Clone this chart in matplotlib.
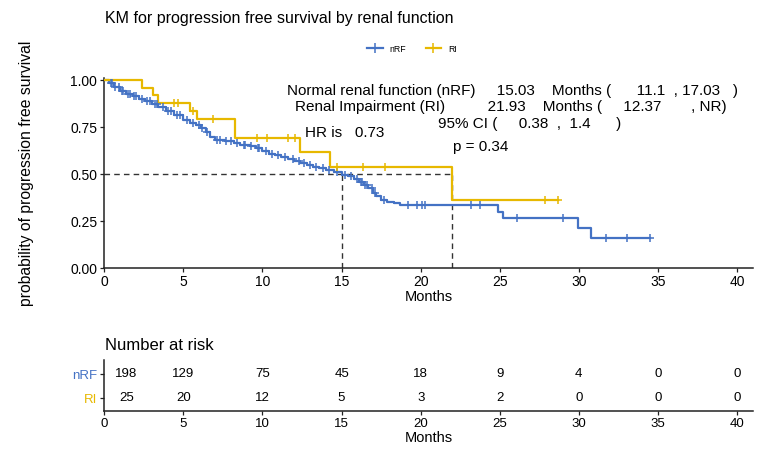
import numpy as np
import matplotlib
matplotlib.use("Agg")
import matplotlib.pyplot as plt
from matplotlib.lines import Line2D

plt.rcParams['font.family'] = ['Liberation Sans', 'DejaVu Sans']

# ---------------------------------------------------------------------------
# Data
# ---------------------------------------------------------------------------
groups = ["nRF", "RI"]
colors = ["#4472C4", "#E7B800"]

# nRF step curve (time, survival)
nrf_t = [0, 0.3, 0.6, 1.0, 1.4, 1.8, 2.2, 2.6, 3.0, 3.4, 3.9, 4.4, 5.0, 5.4,
         5.8, 6.1, 6.4, 6.7, 7.0, 7.6, 8.2, 8.6, 9.2, 9.6, 10.0, 10.4, 10.8,
         11.2, 11.6, 12.0, 12.4, 12.8, 13.2, 13.6, 14.0, 14.5, 15.03, 15.4,
         15.8, 16.1, 16.4, 16.7, 17.0, 17.2, 17.5, 17.9, 18.3, 18.7, 24.9,
         25.2, 29.96, 30.77, 34.5]
nrf_s = [1.0, 0.985, 0.965, 0.945, 0.93, 0.915, 0.90, 0.888, 0.876, 0.86,
         0.835, 0.815, 0.79, 0.775, 0.76, 0.745, 0.725, 0.70, 0.685, 0.676,
         0.665, 0.656, 0.648, 0.638, 0.625, 0.61, 0.60, 0.59, 0.583, 0.572,
         0.56, 0.549, 0.54, 0.532, 0.522, 0.512, 0.498, 0.49, 0.475, 0.46,
         0.445, 0.425, 0.40, 0.382, 0.365, 0.352, 0.345, 0.336, 0.30, 0.265,
         0.212, 0.158, 0.158]
nrf_cens = [0.4, 0.5, 0.7, 0.9, 1.1, 1.2, 1.5, 1.6, 1.9, 2.0, 2.4, 2.7, 2.9,
            3.2, 3.3, 3.7, 4.0, 4.2, 4.6, 4.8, 5.2, 5.6, 6.0, 6.2, 6.5, 7.1,
            7.3, 7.7, 8.0, 8.4, 8.8, 8.9, 9.3, 9.7, 9.8, 10.2, 10.6, 11.0,
            11.4, 11.9, 12.3, 12.6, 13.0, 13.4, 13.8, 14.2, 14.7, 15.2, 15.6,
            16.0, 16.2, 16.3, 16.5, 16.6, 16.9, 17.1, 17.7, 19.2, 19.75,
            20.06, 20.27, 23.2, 23.75, 26.07, 28.98, 31.7, 33.06, 34.5]

# RI step curve
ri_t = [0, 2.36, 3.1, 3.41, 5.42, 5.85, 8.26, 12.37, 14.27, 21.96, 28.7]
ri_s = [1.0, 0.96, 0.92, 0.88, 0.836, 0.792, 0.695, 0.62, 0.54, 0.36, 0.36]
ri_cens = [4.4, 4.68, 5.6, 6.9, 9.63, 10.27, 11.63, 12.05, 14.69, 16.37,
           17.74, 27.86, 28.7]

medians = [15.03, 21.96]

# number at risk
risk_times = [0, 5, 10, 15, 20, 25, 30, 35, 40]
risk_nrf = [198, 129, 75, 45, 18, 9, 4, 0, 0]
risk_ri = [25, 20, 12, 5, 3, 2, 0, 0, 0]

ticks_x = [0, 5, 10, 15, 20, 25, 30, 35, 40]
ticks_y = [0.0, 0.25, 0.5, 0.75, 1.0]

# ---------------------------------------------------------------------------
# Figure
# ---------------------------------------------------------------------------
W, H = 764, 459
fig = plt.figure(figsize=(W / 100, H / 100), dpi=100)

def px_axes(left, top, right, bottom):
    return fig.add_axes([left / W, 1 - bottom / H, (right - left) / W, (bottom - top) / H])

ax = px_axes(104.3, 78, 752.7, 268)
axr = px_axes(104.3, 360, 752.7, 410.7)

def step_y(t, s, c):
    idx = np.searchsorted(t, c, side="right") - 1
    return np.asarray(s)[idx]

curves = [(nrf_t, nrf_s, nrf_cens), (ri_t, ri_s, ri_cens)]
for (t, s, c), col in zip(curves, colors):
    ax.step(t, s, where="post", color=col, lw=1.6, zorder=3)
    ax.plot(c, step_y(t, s, c), ls="none", marker="+", ms=6, mew=1.1,
            color=col, zorder=4)

# median lines
ax.plot([0, max(medians)], [0.5, 0.5], ls=(0, (4, 3)), color="#333333", lw=1, zorder=2)
for m in medians:
    ax.plot([m, m], [0, 0.5], ls=(0, (4, 3)), color="#333333", lw=1, zorder=2)

ax.set_xlim(0, 40.99)
ax.set_ylim(0, 1.013)
ax.set_xticks(ticks_x)
ax.set_yticks(ticks_y)
ax.set_yticklabels([f"{v:.2f}" for v in ticks_y])
ax.set_xlabel("Months", fontsize=10.5, labelpad=1)
ax.set_ylabel("probability of progression free survival", fontsize=11.3, labelpad=26)
for a in (ax, axr):
    for sp in ("top", "right"):
        a.spines[sp].set_visible(False)
    for sp in ("left", "bottom"):
        a.spines[sp].set_linewidth(1.1)
        a.spines[sp].set_color("#222222")
    a.tick_params(length=3, width=0.9, colors="#222222", labelcolor="black",
                  labelsize=10, pad=2)

# annotations
txt = dict(fontsize=11, va="center", ha="left", color="black")
ax.text(11.55, 0.946, "Normal renal function (nRF)     15.03    Months (      11.1  , 17.03   )", **txt)
ax.text(12.05, 0.857, "Renal Impairment (RI)          21.93    Months (     12.37       , NR)", **txt)
ax.text(21.09, 0.768, "95% CI (     0.38  ,  1.4      )", **txt)
ax.text(12.69, 0.718, "HR is   0.73", **txt)
ax.text(22.04, 0.647, "p = 0.34", **txt)

fig.text(105 / W, 1 - 18 / H, "KM for progression free survival by renal function",
         fontsize=11.5, ha="left", va="center")

handles = [Line2D([], [], color=c, lw=1.6, marker="+", ms=6.5, mew=1.1) for c in colors]
fig.legend(handles, groups, loc="center", bbox_to_anchor=(412 / W, 1 - 49 / H),
           ncol=2, frameon=False, fontsize=6.3, handlelength=1.8,
           columnspacing=2.2, handletextpad=0.8)

# risk table
axr.set_xlim(0, 40.99)
axr.set_ylim(-0.517, 1.596)
axr.set_xticks(ticks_x)
axr.set_yticks([1, 0])
axr.set_yticklabels(groups)
for lab, col in zip(axr.get_yticklabels(), colors):
    lab.set_color(col)
    lab.set_fontsize(9.5)
axr.tick_params(axis="x", labelsize=9.5)
label_x = np.maximum(risk_times, 1.4)
for row, vals in zip([1, 0], [risk_nrf, risk_ri]):
    for x, v in zip(label_x, vals):
        axr.text(x, row, str(v), ha="center", va="center", fontsize=9.5)
axr.set_xlabel("Months", fontsize=10.5, labelpad=1)
fig.text(105 / W, 1 - 345 / H, "Number at risk", fontsize=12, ha="left", va="center")

fig.savefig("out.png", dpi=100)
